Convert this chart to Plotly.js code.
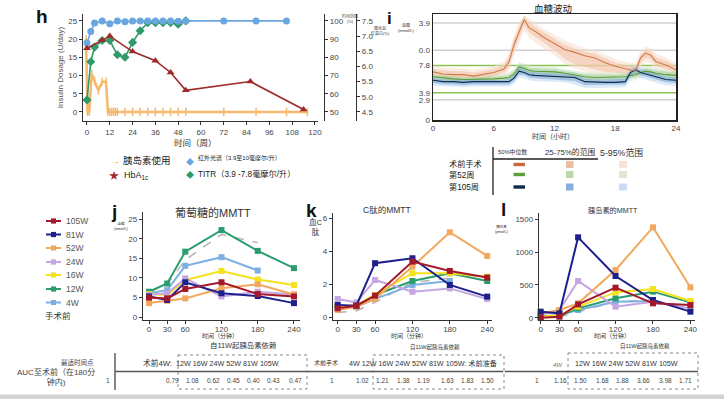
<!DOCTYPE html>
<html><head><meta charset="utf-8">
<script src="https://cdn.plot.ly/plotly-3.0.1.min.js"></script>
<style>html,body{margin:0;padding:0;background:#fff;}#chart{width:724px;height:399px;}</style>
</head><body><div id="chart"></div>
<script>
// ---------- Panel h data ----------
const insWeeks = [-0.5,0.3,1.2,2.5,4,6,8,10,11,12,13,14,15,16,20,24,28,32,36,40,44,48,52,72,89,105,116];
const insDose  = [20,0,0,10.4,8.5,5.9,8.3,8.3,0,0,0,0,0,0,0,0,0,0,0,0,0,0,0,0,0,0,0];
const tirWeeks = [0,2,4,8,12,16,20,24,28,32,36,40,44,48,52,72,89,105];
const tirPct   = [87.8,94.2,98.8,100,98.4,100,99.6,100,100,100,100,100,100,99.8,100,100,100,100];
const titrWeeks= [0,2,4,8,12,16,20,24,28,32,36,40,44,48,52];
const titrPct  = [56.6,77.6,85.6,89.2,89.2,81.4,80,88.2,94.6,99,99,99,99,98.2,100];
const hbaWeeks = [0,8,12,24,36,44,52,86,114];
const hbaPct   = [6.6,6.86,7.0,6.49,6.19,5.8,5.21,5.5,4.58];
const hWeekTicks = [0,12,24,36,48,60,72,84,96,108,120];

// ---------- Panel i data (CGM, mmol/L) ----------
const cgmTime = [0,1,2,3,4,5,6,7,7.5,8,8.5,9,9.5,10,11,12,13,14,15,16,17,18,19,19.5,20,20.5,21,21.5,22,23,24];
const preMed = [6.9,6.6,6.5,6.5,6.3,6.5,6.8,7.3,8.3,10.8,12.6,14.4,13.2,12.8,11.8,11.0,10.1,9.7,9.2,8.9,8.2,7.7,7.4,7.2,7.0,8.9,9.6,9.3,8.4,7.9,7.2];
const pre25  = [6.4,6.1,6.0,6.0,5.9,6.0,6.3,6.8,7.6,9.9,11.8,13.6,12.5,12.0,11.0,10.0,8.8,8.0,7.6,7.2,6.9,6.8,6.7,6.6,6.5,8.2,8.9,8.7,7.8,7.3,6.7];
const pre75  = [7.4,7.1,7.0,7.0,6.8,7.0,7.3,7.9,9.0,11.6,13.3,15.0,14.0,13.4,12.5,11.6,10.8,10.2,9.8,9.5,8.8,8.2,7.9,7.7,7.6,9.4,10.1,9.9,9.0,8.5,7.7];
const pre5   = [6.0,5.7,5.6,5.6,5.5,5.6,5.9,6.3,7.0,9.2,11.0,12.8,11.8,11.2,10.2,9.3,8.1,7.4,7.0,6.6,6.3,6.2,6.2,6.1,6.0,7.6,8.3,8.1,7.2,6.8,6.3];
const pre95  = [7.8,7.5,7.4,7.4,7.2,7.4,7.7,8.4,9.6,12.2,13.9,15.1,14.6,14.0,13.0,12.2,11.4,10.8,10.3,10.0,9.3,8.7,8.4,8.2,8.1,9.9,10.5,10.4,9.5,9.0,8.2];
const w52Med = [6.2,6.0,5.9,5.8,5.8,5.8,5.9,6.0,6.1,6.6,7.6,7.4,7.1,7.0,7.0,6.9,6.7,6.4,6.2,6.1,6.1,6.1,6.2,6.4,6.5,6.8,7.0,6.9,6.7,6.5,6.4];
const w52_25 = [5.9,5.7,5.6,5.5,5.5,5.5,5.6,5.7,5.8,6.2,7.1,7.0,6.7,6.6,6.6,6.5,6.3,6.0,5.8,5.7,5.7,5.7,5.8,6.0,6.1,6.4,6.6,6.5,6.3,6.1,6.0];
const w52_75 = [6.5,6.3,6.2,6.1,6.1,6.1,6.2,6.3,6.5,7.0,8.0,7.8,7.5,7.4,7.4,7.3,7.1,6.8,6.6,6.5,6.5,6.5,6.6,6.8,6.9,7.2,7.4,7.3,7.1,6.9,6.8];
const w52_5  = [5.6,5.4,5.3,5.2,5.2,5.2,5.3,5.4,5.5,5.9,6.7,6.6,6.3,6.2,6.2,6.1,5.9,5.6,5.4,5.3,5.3,5.3,5.4,5.6,5.7,6.0,6.2,6.1,5.9,5.7,5.6];
const w52_95 = [6.8,6.6,6.5,6.4,6.4,6.4,6.5,6.6,6.8,7.4,8.3,8.1,7.8,7.7,7.7,7.6,7.4,7.1,6.9,6.8,6.8,6.8,6.9,7.1,7.2,7.5,7.7,7.6,7.4,7.2,7.1];
const w105Med= [5.7,5.5,5.5,5.4,5.5,5.5,5.5,5.4,5.5,6.0,7.0,6.8,6.5,6.4,6.3,6.3,6.2,6.1,5.5,5.4,5.4,5.4,5.5,6.8,7.2,6.8,6.6,6.5,6.3,5.8,5.7];
const w105_25= [5.3,5.1,5.1,5.0,5.1,5.1,5.1,5.0,5.1,5.6,6.5,6.4,6.1,6.0,5.9,5.9,5.8,5.6,5.0,5.0,5.0,5.0,5.1,6.3,6.7,6.4,6.2,6.1,5.9,5.4,5.3];
const w105_75= [6.0,5.8,5.8,5.7,5.8,5.8,5.8,5.7,5.9,6.5,7.5,7.2,6.9,6.8,6.7,6.7,6.6,6.5,5.9,5.8,5.8,5.8,5.9,7.2,7.6,7.2,7.0,6.9,6.7,6.2,6.1];
const w105_5 = [4.9,4.8,4.8,4.7,4.8,4.8,4.8,4.7,4.8,5.2,6.1,6.0,5.7,5.6,5.5,5.5,5.4,5.1,4.6,4.6,4.6,4.6,4.7,5.9,6.3,6.0,5.8,5.7,5.5,5.0,4.9];
const w105_95= [6.3,6.1,6.1,6.0,6.1,6.1,6.1,6.0,6.2,6.9,7.9,7.6,7.3,7.2,7.1,7.1,7.0,6.9,6.3,6.2,6.2,6.2,6.3,7.6,8.0,7.6,7.4,7.3,7.1,6.6,6.5];
const cgmTickVals = [0,2.9,3.9,7.8,10,13.9];
const cgmTickText = ['0','2.9','3.9','7.8','0.0','3.9'];
const cgmGridGray = [13.9,10,2.9];
const cgmGridGreen = [7.8,3.9];

// ---------- Panels j, k, l data (MMTT) ----------
const mmttTime = [0,30,60,120,180,240];
const groups = ['105W','81W','52W','24W','16W','12W','4W','手术前'];
const glu105=[5.0,4.8,7.2,8.9,5.9,5.3], glu81=[5.3,4.4,8.9,6.1,5.4,3.6], glu52=[3.6,4.2,4.8,7.4,8.4,5.8], glu24=[5.7,6.1,9.9,5.3,6.5,5.8];
const glu16=[5.9,5.7,9.5,11.8,9.6,8.2], glu12=[6.5,8.6,16.7,22.2,16.9,12.5], glu4=[6.1,6.9,13.1,15.3,11.9,null], gluPre=[6.5,8.4,14.6,21.1,19.0,null];
const cp105=[0.53,0.69,1.3,3.37,2.8,2.4], cp81=[0.73,0.69,3.27,3.57,1.95,1.24], cp52=[0.43,0.63,1.1,3.06,5.15,3.71], cp24=[1.1,0.89,2.25,1.54,1.74,1.1];
const cp16=[0.63,0.73,1.34,2.66,2.66,2.45], cp12=[0.63,0.69,1.34,2.19,2.66,2.19], cp4=[0.6,0.63,1.1,1.95,2.19,null], cpPre=[0.28,0.37,0.9,2.1,2.35,null];
const in105=[0,15,203,458,219,193], in81=[92,66,1225,636,270,92], in52=[66,117,219,727,1378,463], in24=[41,117,559,168,244,142];
const in16=[15,41,168,386,437,254], in12=[10,30,142,295,397,234], in4=[20,40,117,244,254,null], inPre=[5,10,92,244,270,null];

// ---------- AUC tables ----------
const aucGlucose = [1,0.79,1.08,0.62,0.45,0.40,0.43,0.47];
const aucCpep    = [1,1.02,1.21,1.38,1.19,1.63,1.83,1.50];
const aucInsulin = [1,1.16,1.50,1.68,1.88,3.66,3.98,1.71];

// ---------- styling / layout helpers ----------
const W=724,H=399, P=x=>x/W, Q=y=>1-y/H;
const FONT='Liberation Sans, Noto Sans CJK SC, sans-serif';
const groupColors = ['#a3182b','#1d1f8c','#f2a85e','#c4a6e2','#f5e21c','#2a9d6e','#7cb0e2','#b3b3b3'];
const annotations=[], shapes=[], traces=[];
function txt(t,x,y,o){o=o||{};annotations.push({text:t,x:P(x),y:Q(y),xref:'paper',yref:'paper',showarrow:false,
  xanchor:o.xa||'center',yanchor:'middle',textangle:o.angle||0,
  font:{size:o.size||9,color:o.color||'#333',family:o.family||FONT,weight:o.weight||'normal',style:o.style||'normal'}});}
function line(x0,y0,x1,y1,c,w,d){shapes.push({type:'line',xref:'paper',yref:'paper',x0:P(x0),y0:Q(y0),x1:P(x1),y1:Q(y1),line:{color:c,width:w,dash:d||'solid'}});}
function rect(x0,y0,x1,y1,fill,lc,dash){shapes.push({type:'rect',xref:'paper',yref:'paper',x0:P(x0),y0:Q(y0),x1:P(x1),y1:Q(y1),fillcolor:fill,line:{color:lc||'rgba(0,0,0,0)',width:lc?1:0,dash:dash||'solid'}});}
const tickF={size:8,color:'#444',family:FONT};
function axBase(extra){return Object.assign({showline:true,linecolor:'#333',linewidth:1.2,ticks:'outside',ticklen:3,tickcolor:'#333',tickfont:tickF,showgrid:false,zeroline:false,fixedrange:true},extra);}

// ---------- Panel h traces ----------
traces.push({x:insWeeks,y:insDose,xaxis:'x',yaxis:'y',mode:'lines+markers',line:{color:'#f5b96e',width:2.5},
  marker:{symbol:'line-ns-open',size:6,line:{color:'#f0a850',width:1.5}},cliponaxis:false});
traces.push({x:hbaWeeks,y:hbaPct,xaxis:'x',yaxis:'y3',mode:'lines+markers',line:{color:'#9e2a2b',width:1.6},
  marker:{symbol:'triangle-up',size:7,color:'#9e2a2b'},cliponaxis:false});
traces.push({x:titrWeeks,y:titrPct,xaxis:'x',yaxis:'y2',mode:'lines+markers',line:{color:'#2e9a6a',width:1.6},
  marker:{symbol:'diamond',size:7,color:'#2e9a6a'},cliponaxis:false});
traces.push({x:tirWeeks,y:tirPct,xaxis:'x',yaxis:'y2',mode:'lines+markers',line:{color:'#6aa6e0',width:1.6},
  marker:{symbol:'circle',size:7,color:'#6aa6e0'},cliponaxis:false});

// ---------- Panel i traces ----------
function band(lo,hi,fc){traces.push({x:cgmTime.concat(cgmTime.slice().reverse()),y:lo.concat(hi.slice().reverse()),
  xaxis:'x2',yaxis:'y4',mode:'lines',fill:'toself',fillcolor:fc,line:{width:0},hoverinfo:'skip'});}
band(pre5,pre95,'rgba(250,222,205,0.55)');
band(w52_5,w52_95,'rgba(214,232,204,0.55)');
band(w105_5,w105_95,'rgba(197,219,243,0.6)');
band(pre25,pre75,'rgba(240,188,158,0.5)');
band(w52_25,w52_75,'rgba(160,205,140,0.5)');
band(w105_25,w105_75,'rgba(120,165,215,0.55)');
[[w52Med,'#5c9e3c'],[w105Med,'#0d2a4a'],[preMed,'#d07a4c']].forEach(a=>traces.push({x:cgmTime,y:a[0],xaxis:'x2',yaxis:'y4',mode:'lines',line:{color:a[1],width:1.1}}));

// ---------- Panels j, k, l traces ----------
const gluSets=[glu105,glu81,glu52,glu24,glu16,glu12,glu4,gluPre];
const cpSets=[cp105,cp81,cp52,cp24,cp16,cp12,cp4,cpPre];
const inSets=[in105,in81,in52,in24,in16,in12,in4,inPre];
[[gluSets,'x3','y5'],[cpSets,'x4','y6'],[inSets,'x5','y7']].forEach(p=>{
  for(let i=groups.length-1;i>=0;i--){
    const pre = i===groups.length-1;
    traces.push({x:mmttTime,y:p[0][i],xaxis:p[1],yaxis:p[2],name:groups[i],mode:pre?'lines':'lines+markers',
      line:{color:groupColors[i],width:pre?1.5:2,dash:pre?'dash':'solid'},
      marker:{symbol:'square',size:6,color:groupColors[i]},cliponaxis:false,connectgaps:false});
  }
});

// ---------- Axes ----------
const mmX = {ticklabelstandoff:-2};
const layout={width:W,height:H,margin:{l:0,r:0,t:0,b:0},paper_bgcolor:'#fff',plot_bgcolor:'rgba(0,0,0,0)',showlegend:false,
  font:{family:FONT},
  xaxis:axBase({domain:[P(83),P(318)],range:[-2.1,121.6],anchor:'y',tickvals:hWeekTicks}),
  yaxis:axBase({domain:[Q(121),Q(14)],range:[-2.5,26.9],anchor:'x',tickvals:[0,5,10,15,20,25],
    title:{text:'Insulin Dosage (U/day)',font:{size:8,color:'#555'},standoff:3}}),
  yaxis2:axBase({overlaying:'y',side:'right',anchor:'free',position:P(324),range:[45,103.8],tickvals:[50,60,70,80,90,100]}),
  yaxis3:axBase({overlaying:'y',side:'right',anchor:'free',position:P(356),range:[4.2,7.728],
    tickvals:[4.5,5,5.5,6,6.5,7,7.5],ticktext:['4.5','5.0','5.5','6.0','6.5','7.0','7.5']}),
  xaxis2:axBase({domain:[P(433),P(676)],range:[0,24],anchor:'y4',tickvals:[0,6,12,18,24],mirror:true,linecolor:'#222',linewidth:1.5,ticks:''}),
  yaxis4:axBase({domain:[Q(120),Q(14)],range:[0,15.2],anchor:'x2',tickvals:cgmTickVals,ticktext:cgmTickText,mirror:true,linecolor:'#222',linewidth:1.5,ticks:''}),
  xaxis3:axBase(Object.assign({domain:[P(143),P(300)],range:[-10,250],anchor:'y5',tickvals:mmttTime},mmX)),
  yaxis5:axBase({domain:[Q(320),Q(212)],range:[-0.7,26.8],anchor:'x3',tickvals:[0,5,10,15,20,25]}),
  xaxis4:axBase(Object.assign({domain:[P(333),P(492)],range:[-7.5,247.7],anchor:'y6',tickvals:mmttTime},mmX)),
  yaxis6:axBase({domain:[Q(320),Q(213)],range:[-0.18,6.32],anchor:'x4',tickvals:[0,2,4,6]}),
  xaxis5:axBase(Object.assign({domain:[P(539),P(695)],range:[-2.7,247.4],anchor:'y7',tickvals:mmttTime},mmX)),
  yaxis7:axBase({domain:[Q(320),Q(213)],range:[-35,1596],anchor:'x5',tickvals:[0,500,1000,1500]}),
  annotations:annotations,shapes:shapes};

// CGM reference lines
cgmGridGray.forEach(v=>shapes.push({type:'line',xref:'x2 domain',yref:'y4',x0:0,x1:1,y0:v,y1:v,line:{color:'#cfcfcf',width:1.5},layer:'below'}));
cgmGridGreen.forEach(v=>shapes.push({type:'line',xref:'x2 domain',yref:'y4',x0:0,x1:1,y0:v,y1:v,line:{color:'#8cc152',width:1.5},layer:'below'}));

// ---------- Texts: panel h ----------
txt('h',42,17,{size:19,color:'#111',weight:'bold'});
txt('时间（周）',196,143,{size:8.5,color:'#333'});
txt('时间范围<br>(%)',350,18,{size:4,color:'#444'});
txt('糖化血<br>红蛋白(%)',380,30,{size:4,color:'#444'});
txt('→',115,161,{size:10,color:'#f0a850'});
txt('胰岛素使用',121,161,{size:9.5,color:'#222',xa:'left'});
txt('★',114,175,{size:10,color:'#9e2a2b'});
txt('HbA<sub>1c</sub>',122,175,{size:9,color:'#222',xa:'left'});
txt('◆',190,162,{size:8,color:'#6aa6e0'});
txt('红外光谱（3.9至10毫摩尔/升）',196,158,{size:6,color:'#222',xa:'left'});
txt('◆',190,175,{size:8,color:'#2e9a6a'});
txt('TITR（3.9 -7.8毫摩尔/升）',196,174,{size:8.2,color:'#222',xa:'left'});

// ---------- Texts: panel i ----------
txt('i',389,18,{size:17,color:'#111',weight:'bold'});
txt('血糖波动',553,8,{size:9.5,color:'#222'});
txt('血糖<br>(mmol/L)',406,27,{size:4,color:'#333'});
txt('时间（小时）',553,136,{size:7,color:'#333'});
line(493,147,493,195,'#222',1.3);
line(493,159,598,159,'#222',1.3);
txt('50%中位数',512,152,{size:5.8,color:'#333'});
txt('25-75%的范围',570,152,{size:7.8,color:'#333'});
txt('5-95%范围',621,153,{size:8.8,color:'#333'});
const rowY=[164.5,174.5,187], rowLab=['术前手术','第52周','第105周'];
const medCols=['#c9683d','#5c9e3c','#0d2a4a'], midCols=['#ebbf9f','#bcd8ab','#86aede'], outCols=['#f9e2d5','#dde9d3','#c8dcf3'];
rowY.forEach((y,i)=>{txt(rowLab[i],447,y,{size:8.2,color:'#222',xa:'left'});
  rect(513.5,y-1.7,525,y+1.7,medCols[i]); rect(566,y-3.5,573.5,y+3.5,midCols[i]); rect(619,y-3.5,627,y+3.5,outCols[i]);});

// ---------- Texts: panels j,k,l ----------
txt('j',114,211,{size:19,color:'#111',weight:'bold'});
txt('葡萄糖的MMTT',213,212,{size:11,color:'#333'});
txt('血糖<br>(mmol/L)',121,226,{size:3.5,color:'#333'});
txt('k',311,210,{size:19,color:'#111',weight:'bold'});
txt('C肽的MMTT',387,210,{size:8.5,color:'#333'});
txt('血C<br>肽',316,227,{size:7.5,color:'#333'});
txt('l',503,209,{size:19,color:'#111',weight:'bold'});
txt('胰岛素的MMTT',613,210,{size:7.2,color:'#333'});
txt('胰岛素<br>(pmol/L)',501,229,{size:3.5,color:'#333'});
[220,409,612].forEach(x=>txt('时间（分钟）',x,336,{size:6,color:'#333'}));

// MMTT legend
const legY=[221,234.5,248,262,275,289,302.5];
legY.forEach((y,i)=>{line(46,y,61,y,groupColors[i],2); rect(51,y-2.6,56,y+2.6,groupColors[i]);
  txt(groups[i],64,y,{size:8.5,color:'#555',xa:'left'});});
txt(groups[7],43,316,{size:8.5,color:'#333',xa:'left'});

// ---------- AUC tables ----------
txt('自11W起胰岛素依赖',243,345,{size:7.4,color:'#333'});
txt('自11W起胰岛素依赖',435,347,{size:5.5,color:'#333'});
txt('自11W起胰岛素依赖',645,346,{size:5.5,color:'#333'});
txt('最适时间点',77,362,{size:6.5,color:'#444'});
txt('AUC至术前（在180分<br>钟内)',15,377,{size:8,color:'#444',xa:'left'});
line(115,353,115,390,'#444',1.3);
line(115,371.5,503,371.5,'#555',1.5);
line(505,371.5,698,371.5,'#555',1.5);
txt('术前4W:',157,363,{size:7.7,color:'#333'});
txt('12W 16W 24W 52W 81W 105W',228,363,{size:7.2,color:'#333'});
txt('术前手术',326,363,{size:6,color:'#333'});
txt('4W 12W 16W 24W 52W 81W 105W: 术前准备',423,363,{size:7.2,color:'#333'});
txt('4W',558,365,{size:6,color:'#777',style:'italic'});
txt('12W 16W 24W 52W 81W 105W',626,363,{size:7.2,color:'#333'});
rect(178,355,307,389,'rgba(0,0,0,0)','#888','dot');
rect(373,355,504,389,'rgba(0,0,0,0)','#888','dot');
rect(568,353,698,389,'rgba(0,0,0,0)','#888','dot');
const fmt=v=>v===1?'1':v.toFixed(2);
const t1x=[108,172,192,213,233,253,273,295], t2x=[332,362,382,403,424,447,467,487], t3x=[537,560,580,602,622,643,665,685];
[[aucGlucose,t1x],[aucCpep,t2x],[aucInsulin,t3x]].forEach(t=>t[0].forEach((v,i)=>txt(fmt(v),t[1][i],380,{size:6.5,color:'#444'})));
rect(0,394.5,724,399,'#d4d4d4');

Plotly.newPlot('chart',traces,layout,{staticPlot:true});
</script></body></html>
